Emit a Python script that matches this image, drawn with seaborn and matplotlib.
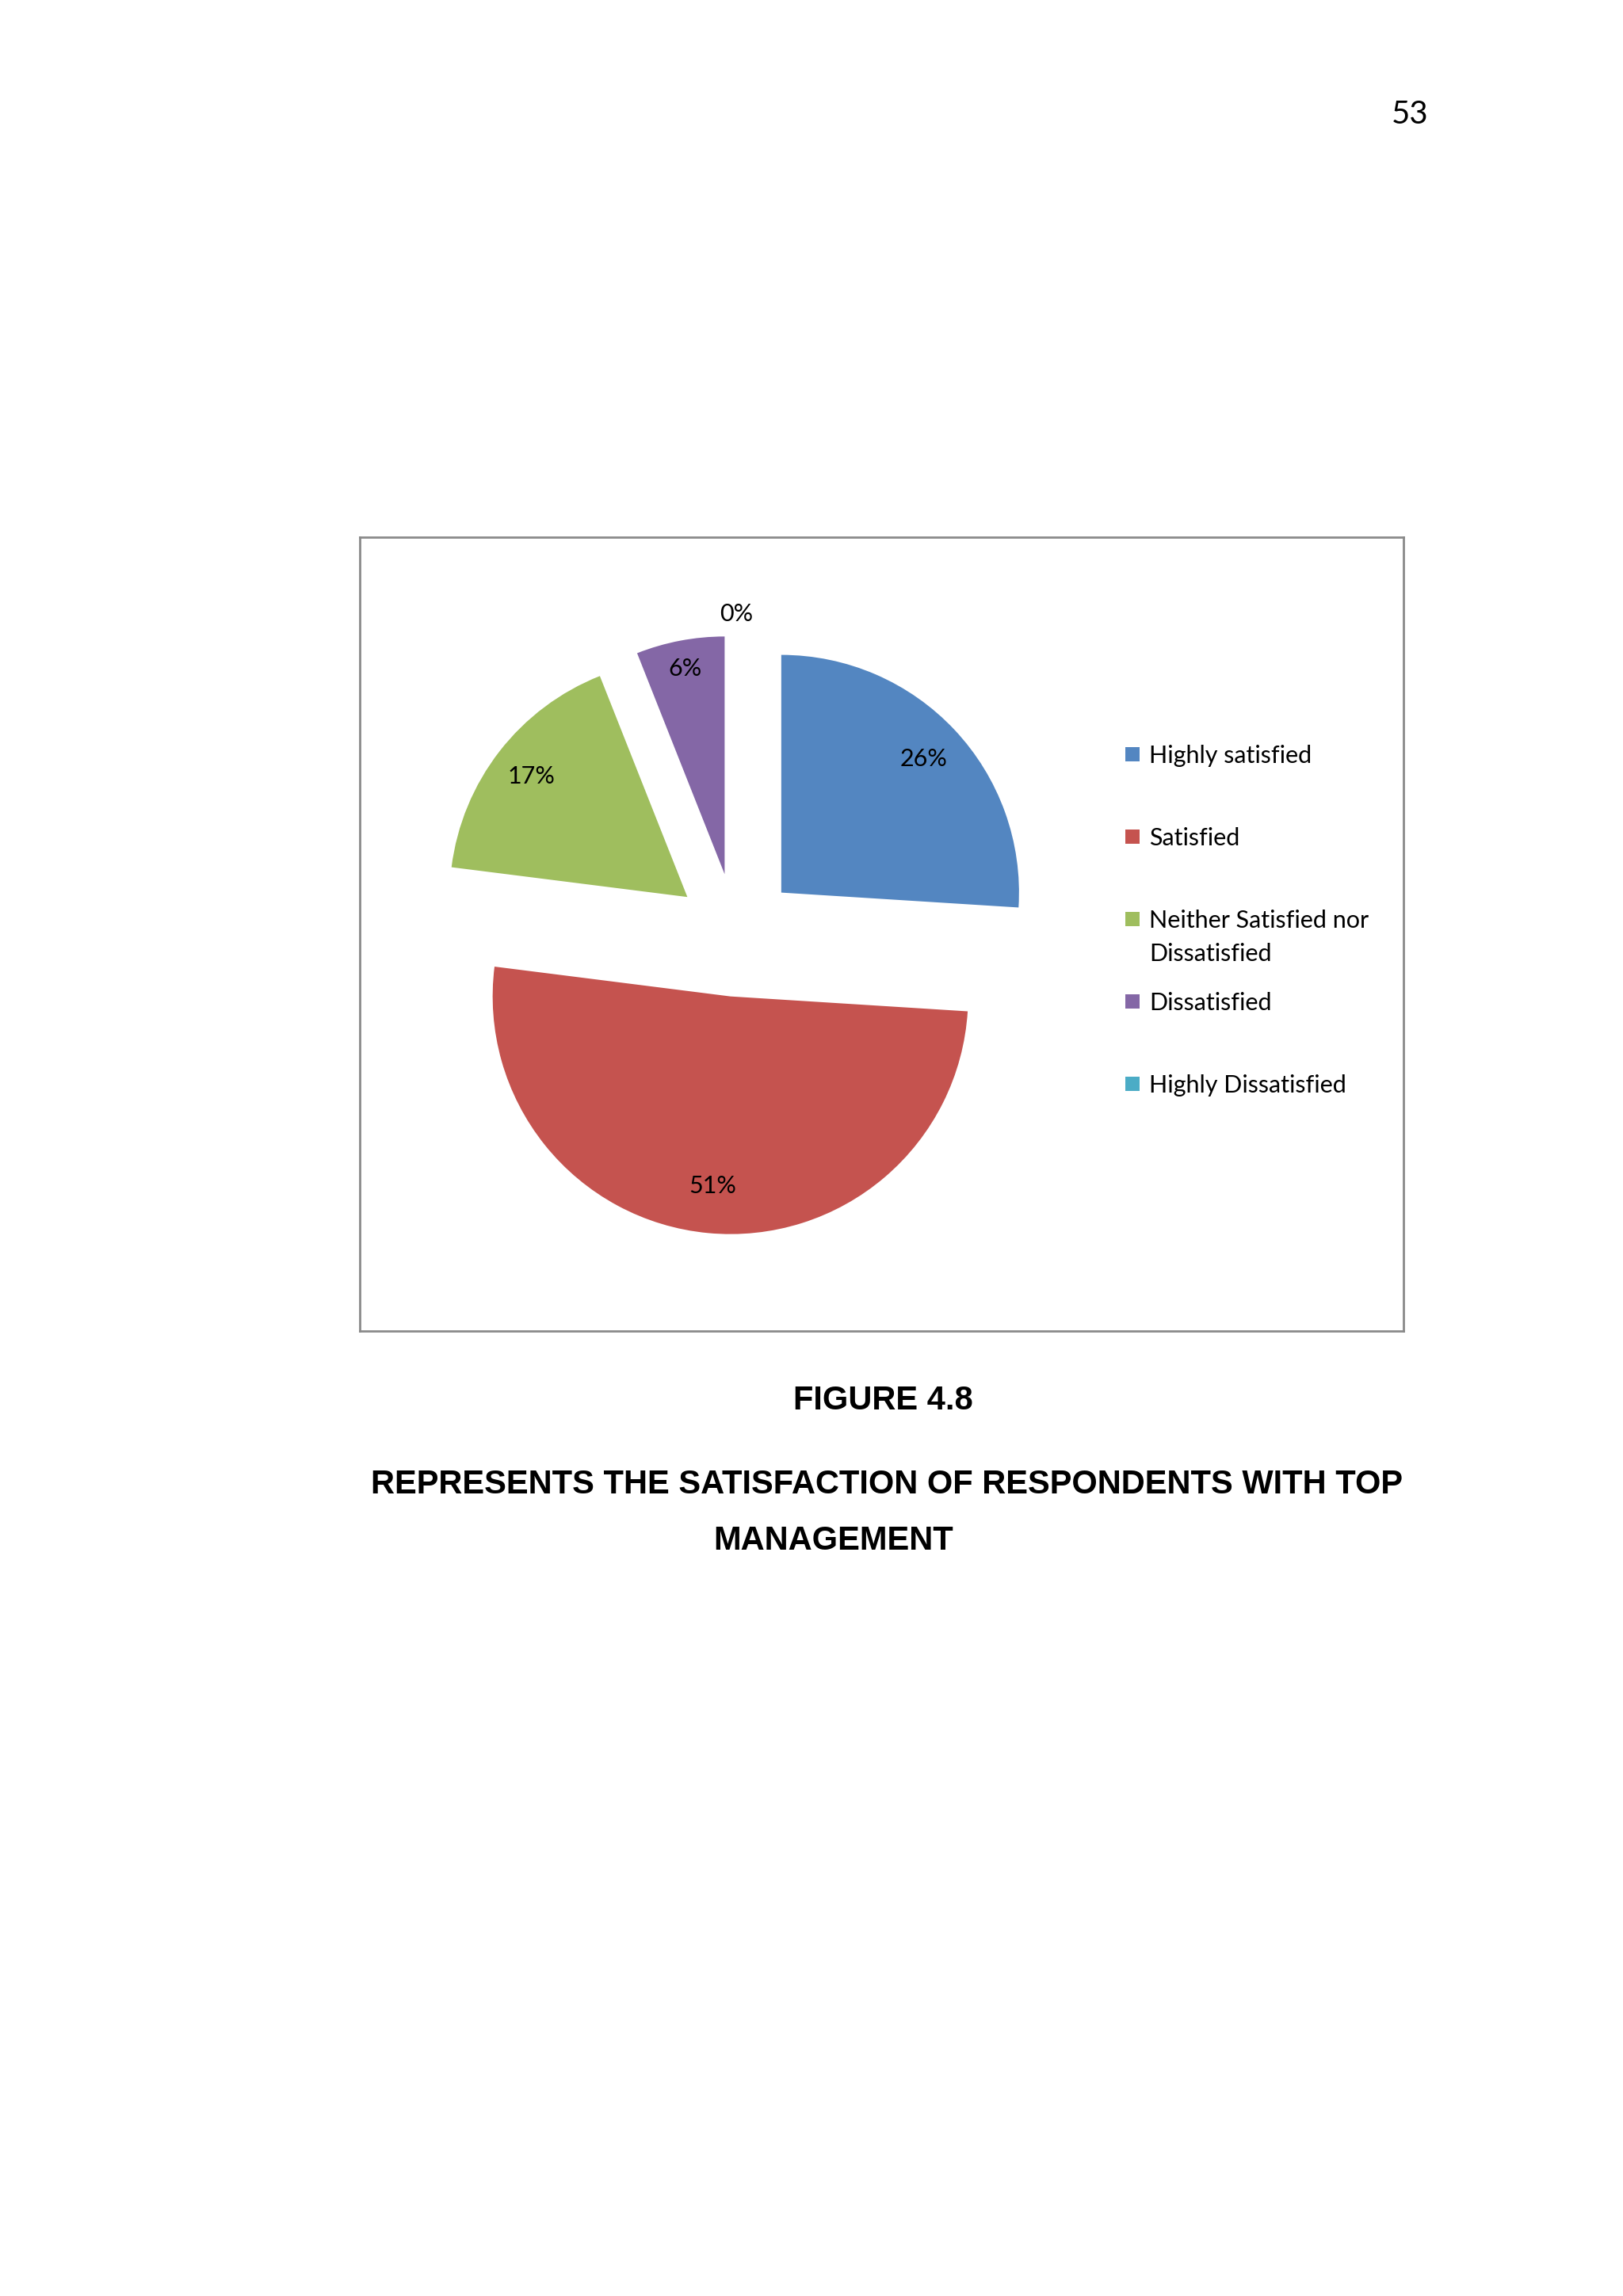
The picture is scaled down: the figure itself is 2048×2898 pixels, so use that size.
import numpy as np
import matplotlib
matplotlib.use("Agg")
import matplotlib.pyplot as plt
import seaborn as sns
from matplotlib.patches import Rectangle

# datos del grafico
categorias = ["Highly satisfied", "Satisfied", "Neither Satisfied nor\nDissatisfied",
              "Dissatisfied", "Highly Dissatisfied"]
porcentajes = [26, 51, 17, 6, 0]
colores = ["#5386C1", "#C5534F", "#9FBE5E", "#8467A6", "#4BACC6"]

pagina = "53"
titulo = "FIGURE 4.8"
subtitulo_1 = "REPRESENTS THE SATISFACTION OF RESPONDENTS WITH TOP"
subtitulo_2 = "MANAGEMENT"

sns.set_theme(style="white")
plt.rcParams["font.family"] = ["Lato", "DejaVu Sans"]

W, H = 2048, 2898
fig = plt.figure(figsize=(W / 100, H / 100), dpi=100)
fig.patch.set_facecolor("white")


def fx(px):
    return px / W


def fy(py):
    return 1 - py / H


# marco del grafico
marco = fig.add_axes([fx(454), fy(1680), (1771 - 454) / W, (1680 - 678) / H])
marco.set_xticks([])
marco.set_yticks([])
marco.set_facecolor("white")
for s in marco.spines.values():
    s.set_visible(True)
    s.set_color("#8a8a8a")
    s.set_linewidth(2)

# grafico de pastel
radio = 300
cx, cy = 929, 1180
lado = 2.4 * radio
ax = fig.add_axes([fx(cx - lado / 2), fy(cy + lado / 2), lado / W, lado / H])
wedges, textos, autotextos = ax.pie(
    porcentajes, colors=colores, startangle=90, counterclock=False,
    explode=[0.26] * len(porcentajes), autopct="%1.0f%%", pctdistance=0.82,
    wedgeprops=dict(linewidth=0),
    textprops=dict(fontsize=22, color="black"))
ax.set_xlim(-1.2, 1.2)
ax.set_ylim(-1.2, 1.2)
ax.set_facecolor("none")

# distancia de cada etiqueta (la del 0% va fuera del pastel)
distancias = [0.82, 0.80, 0.83, 0.88, 1.09]
for w, t, d in zip(wedges, autotextos, distancias):
    ang = np.deg2rad((w.theta1 + w.theta2) / 2)
    x0, y0 = w.center
    t.set_position((x0 + d * np.cos(ang), y0 + d * np.sin(ang)))

# leyenda
for i, (cat, col) in enumerate(zip(categorias, colores)):
    yc = 952 + 104 * i
    fig.patches.append(Rectangle((fx(1420), fy(yc + 9)), 18 / W, 18 / H,
                                 transform=fig.transFigure, facecolor=col,
                                 edgecolor="none"))
    for k, linea in enumerate(cat.split("\n")):
        fig.text(fx(1450), fy(yc + 11 + 42 * k), linea, fontsize=22,
                 color="black", ha="left", va="baseline")

# numero de pagina y titulos
fig.text(fx(1779), fy(145), pagina, fontsize=29, color="black",
         ha="center", va="center")
fuente = ["Liberation Sans", "DejaVu Sans"]
fig.text(fx(1114), fy(1768), titulo, fontsize=30, fontweight="bold",
         family=fuente, color="black", ha="center", va="center")
fig.text(fx(1119), fy(1874), subtitulo_1, fontsize=30, fontweight="bold",
         family=fuente, color="black", ha="center", va="center")
fig.text(fx(1052), fy(1945), subtitulo_2, fontsize=30, fontweight="bold",
         family=fuente, color="black", ha="center", va="center")

plt.savefig("out.png", dpi=100, facecolor="white")
